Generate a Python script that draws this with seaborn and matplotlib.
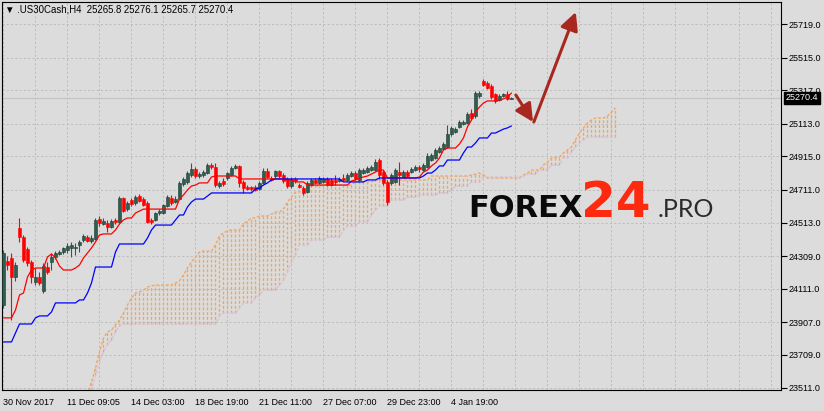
import matplotlib
matplotlib.use("Agg")
import matplotlib.pyplot as plt
import matplotlib.transforms as mtransforms
import numpy as np
import pandas as pd
import seaborn as sns

# .US30Cash H4 candles (bar 0 = 30 Nov 2017)
opens = [24012, 24280, 24298, 24182, 24480, 24425, 24353, 24274, 24152, 24182,
         24098, 24243, 24274, 24304, 24322, 24334, 24347, 24359, 24359, 24377,
         24407, 24425, 24401, 24413, 24535, 24504, 24510, 24486, 24529, 24517,
         24662, 24595, 24650, 24632, 24674, 24656, 24632, 24529, 24529, 24571,
         24571, 24614, 24662, 24638, 24656, 24747, 24760, 24802, 24839, 24796,
         24802, 24814, 24863, 24851, 24735, 24766, 24784, 24802, 24845, 24857,
         24760, 24729, 24729, 24729, 24717, 24754, 24826, 24784, 24796, 24826,
         24802, 24778, 24735, 24778, 24741, 24723, 24699, 24741, 24772, 24754,
         24760, 24778, 24772, 24772, 24766, 24784, 24772, 24796, 24814, 24772,
         24814, 24820, 24832, 24832, 24893, 24820, 24760, 24754, 24760, 24820,
         24790, 24820, 24820, 24832, 24851, 24832, 24851, 24893, 24905, 24942,
         24960, 24972, 25051, 25063, 25094, 25112, 25118, 25179, 25160, 25282,
         25373, 25361, 25343, 25294, 25258, 25282, 25294, 25265.8]
highs = [24347, 24310, 24328, 24274, 24541, 24438, 24365, 24286, 24237, 24213,
         24267, 24274, 24328, 24340, 24347, 24365, 24389, 24395, 24389, 24407,
         24444, 24438, 24438, 24541, 24553, 24541, 24529, 24535, 24541, 24674,
         24668, 24644, 24662, 24681, 24687, 24668, 24644, 24541, 24577, 24595,
         24626, 24681, 24681, 24674, 24766, 24790, 24826, 24875, 24851, 24820,
         24832, 24875, 24875, 24875, 24766, 24784, 24820, 24857, 24869, 24863,
         24772, 24741, 24735, 24741, 24766, 24845, 24845, 24796, 24832, 24832,
         24814, 24790, 24790, 24790, 24754, 24735, 24766, 24784, 24784, 24796,
         24790, 24790, 24784, 24802, 24790, 24808, 24814, 24826, 24826, 24845,
         24845, 24857, 24863, 24899, 24905, 24832, 24772, 24814, 24845, 24881,
         24832, 24832, 24851, 24863, 24863, 24875, 24936, 24936, 24966, 24978,
         25003, 25106, 25100, 25094, 25136, 25136, 25185, 25203, 25312, 25312,
         25385, 25373, 25355, 25300, 25294, 25300, 25312, 25276.1]
lows = [23994, 24225, 23921, 24158, 24395, 24274, 24249, 24146, 24134, 24134,
        24085, 24201, 24225, 24292, 24316, 24322, 24328, 24304, 24316, 24334,
        24395, 24395, 24389, 24407, 24492, 24498, 24456, 24480, 24504, 24510,
        24577, 24583, 24614, 24620, 24638, 24614, 24510, 24504, 24523, 24559,
        24565, 24608, 24620, 24632, 24650, 24735, 24747, 24790, 24784, 24784,
        24790, 24808, 24839, 24729, 24723, 24735, 24772, 24796, 24839, 24729,
        24693, 24711, 24705, 24705, 24711, 24747, 24784, 24766, 24784, 24784,
        24754, 24723, 24723, 24754, 24723, 24681, 24693, 24735, 24747, 24747,
        24754, 24735, 24735, 24741, 24760, 24766, 24766, 24790, 24772, 24766,
        24808, 24814, 24826, 24826, 24778, 24741, 24620, 24741, 24754, 24741,
        24784, 24790, 24814, 24826, 24820, 24826, 24845, 24887, 24899, 24936,
        24954, 24966, 25039, 25057, 25088, 25106, 25112, 25136, 25148, 25270,
        25343, 25324, 25264, 25239, 25252, 25276, 25258, 25265.7]
closes = [24328, 24255, 24182, 24255, 24425, 24286, 24267, 24182, 24182, 24146,
          24249, 24213, 24304, 24328, 24334, 24359, 24371, 24377, 24365, 24395,
          24432, 24401, 24419, 24529, 24510, 24523, 24486, 24523, 24517, 24662,
          24583, 24632, 24626, 24668, 24644, 24620, 24517, 24517, 24571, 24583,
          24620, 24668, 24632, 24656, 24754, 24778, 24814, 24839, 24796, 24808,
          24820, 24863, 24851, 24741, 24754, 24747, 24814, 24845, 24857, 24754,
          24723, 24717, 24717, 24711, 24754, 24826, 24790, 24772, 24826, 24796,
          24766, 24735, 24778, 24766, 24729, 24693, 24754, 24772, 24754, 24784,
          24778, 24741, 24741, 24760, 24778, 24772, 24802, 24814, 24778, 24832,
          24832, 24845, 24851, 24881, 24802, 24754, 24638, 24802, 24832, 24802,
          24820, 24796, 24839, 24851, 24839, 24863, 24918, 24924, 24954, 24966,
          24990, 25051, 25088, 25081, 25124, 25124, 25173, 25148, 25300, 25300,
          25349, 25330, 25276, 25252, 25282, 25294, 25264, 25270.4]

# Ichimoku lines as (level, number of bars it holds)
tenkan_levels = [23934, 23982, 24073, 24085, 24182, 24225, 24237, 24304, 24322, 24298,
                 24249, 24225, 24237, 24255, 24298, 24328, 24359, 24395, 24438, 24444,
                 24468, 24504, 24529, 24541, 24571, 24583, 24595, 24656, 24681, 24711,
                 24735, 24741, 24754, 24790, 24796, 24778, 24772, 24760, 24741, 24766,
                 24772, 24784, 24790, 24796, 24808, 24820, 24832, 24784, 24790, 24820,
                 24832, 24857, 24875, 24905, 24954, 24966, 24990, 25027, 25094, 25136,
                 25185, 25215, 25239, 25252, 25258, 25264, 25276, 25300]
tenkan_bars = [3, 1, 1, 1, 1, 1, 3, 1, 1, 1,
               1, 3, 1, 1, 1, 1, 1, 1, 1, 3,
               1, 1, 1, 2, 1, 1, 9, 1, 1, 1,
               1, 1, 3, 1, 6, 12, 2, 3, 11, 1,
               1, 1, 1, 1, 1, 1, 2, 8, 1, 1,
               1, 1, 1, 1, 1, 3, 1, 1, 1, 1,
               1, 1, 1, 3, 1, 1, 1, 1]
kijun_levels = [23788, 23842, 23897, 23934, 23946, 23970, 24025, 24043, 24085, 24146,
                24243, 24334, 24383, 24419, 24468, 24498, 24529, 24559, 24608, 24638,
                24656, 24674, 24693, 24717, 24723, 24741, 24754, 24772, 24778, 24760,
                24772, 24784, 24796, 24814, 24832, 24857, 24893, 24936, 24972, 24996,
                25027, 25057, 25069, 25081, 25088, 25100]
kijun_bars = [3, 1, 4, 1, 3, 1, 6, 2, 1, 1,
              5, 1, 7, 1, 1, 5, 1, 2, 1, 1,
              3, 1, 11, 1, 1, 1, 1, 1, 17, 6,
              3, 11, 1, 2, 1, 2, 4, 1, 2, 1,
              3, 2, 1, 1, 1, 1]

# Senkou spans, already shifted 26 bars ahead; first value sits at bar 21
span_start = 21
span_a_levels = [23466, 23545, 23630, 23727, 23812, 23848, 23861, 23891, 23921, 23964,
                 24012, 24055, 24085, 24091, 24103, 24122, 24128, 24134, 24146, 24158,
                 24195, 24237, 24274, 24304, 24334, 24340, 24377, 24432, 24450, 24462,
                 24468, 24504, 24523, 24541, 24553, 24565, 24577, 24595, 24638, 24668,
                 24699, 24717, 24723, 24735, 24741, 24760, 24772, 24796, 24802, 24808,
                 24814, 24802, 24784, 24802, 24814, 24832, 24863, 24881, 24905, 24911,
                 24936, 24954, 24972, 25015, 25057, 25088, 25118, 25136, 25148, 25160,
                 25185, 25209]
span_a_bars = [1, 1, 1, 1, 1, 1, 1, 1, 1, 1,
               1, 1, 1, 1, 1, 1, 1, 5, 1, 1,
               1, 1, 1, 1, 1, 3, 1, 1, 1, 1,
               3, 1, 1, 2, 3, 1, 2, 1, 1, 1,
               2, 1, 1, 3, 8, 5, 14, 10, 1, 1,
               1, 1, 9, 1, 1, 3, 1, 1, 1, 2,
               1, 1, 1, 1, 1, 1, 1, 1, 3, 1,
               1, 1]
span_b_levels = [23435, 23496, 23587, 23666, 23727, 23770, 23800, 23848, 23885, 23897,
                 23946, 23964, 23994, 24025, 24055, 24073, 24103, 24134, 24164, 24213,
                 24274, 24316, 24377, 24407, 24425, 24468, 24492, 24517, 24559, 24590,
                 24614, 24650, 24668, 24681, 24693, 24711, 24735, 24760, 24790, 24796,
                 24808, 24832, 24863, 24905, 24942, 24972, 24996, 25015, 25033]
span_b_bars = [1, 1, 1, 1, 1, 1, 1, 1, 1, 24,
               1, 4, 1, 3, 1, 1, 4, 1, 1, 1,
               1, 1, 3, 4, 4, 1, 3, 3, 1, 1,
               3, 4, 3, 5, 3, 1, 4, 3, 10, 1,
               3, 3, 3, 2, 1, 1, 1, 1, 8]

# forecast arrows drawn on the chart: (bar, price) points
arrow_down = [(128.1, 25288), (132.4, 25124)]
arrow_up = [(132.6, 25124), (143.1, 25792)]

# axis labelling
price_ticks = [25719, 25515, 25317, 25113, 24915, 24711, 24513, 24309, 24111, 23907, 23709, 23511]
time_ticks = [0, 16, 32, 48, 64, 80, 96, 112]
time_labels = ["30 Nov 2017", "11 Dec 09:05", "14 Dec 03:00", "18 Dec 19:00",
               "21 Dec 11:00", "27 Dec 07:00", "29 Dec 23:00", "4 Jan 19:00"]
last_price = 25270.4
header = "\u25bc .US30Cash,H4  25265.8 25276.1 25265.7 25270.4"

BG = "#dcdcdc"
GRID = "#bdbdbd"
BULL = "#2f5d4e"
BEAR = "#ff0000"

sns.set_style("white", {"axes.facecolor": BG, "figure.facecolor": BG})
plt.rcParams["font.family"] = ["Liberation Sans", "DejaVu Sans"]

candles = pd.DataFrame({"open": opens, "high": highs, "low": lows, "close": closes})
candles["bar"] = np.arange(len(candles))
candles["up"] = candles["close"] >= candles["open"]

lines = pd.DataFrame({
    "bar": np.arange(len(candles)),
    "tenkan": np.repeat(tenkan_levels, tenkan_bars),
    "kijun": np.repeat(kijun_levels, kijun_bars),
})
span_a = np.repeat(span_a_levels, span_a_bars)
span_b = np.repeat(span_b_levels, span_b_bars)
cloud = pd.DataFrame({"bar": np.arange(span_start, span_start + len(span_a)),
                      "a": span_a, "b": span_b})

fig = plt.figure(figsize=(8.24, 4.11), dpi=100)
ax = fig.add_axes([2 / 824, 21 / 411, 779 / 824, 388 / 411])

# grid
ax.set_xticks(np.arange(0, 195, 8), minor=True)
ax.grid(True, which="both", axis="x", color=GRID, lw=0.7, ls=(0, (2.2, 2.2)), zorder=0)
ax.grid(True, which="major", axis="y", color=GRID, lw=0.7, ls=(0, (2.2, 2.2)), zorder=0)
ax.set_axisbelow(True)

ax.axhline(last_price, color="#c4c4c4", lw=0.8, zorder=1)

# cloud hatching
up_cloud = cloud["a"] >= cloud["b"]
dash = (0, (2.2, 1.4))
ax.vlines(cloud["bar"][up_cloud], cloud["b"][up_cloud], cloud["a"][up_cloud],
          colors="#f4a460", linestyles=[dash], lw=0.95, zorder=2)
ax.vlines(cloud["bar"][~up_cloud], cloud["a"][~up_cloud], cloud["b"][~up_cloud],
          colors="#d8bfd8", linestyles=[dash], lw=0.95, zorder=2)
ax.plot(cloud["bar"], cloud["a"], color="#f4a460", lw=0.95, ls=dash, zorder=2)
ax.plot(cloud["bar"], cloud["b"], color="#d8bfd8", lw=0.95, ls=dash, zorder=2)

# candles
wick_colors = np.where(candles["up"], BULL, BEAR)
ax.vlines(candles["bar"], candles["low"], candles["high"], colors=wick_colors, lw=0.8, zorder=3)
body_low = candles[["open", "close"]].min(axis=1)
body_h = (candles["close"] - candles["open"]).abs().clip(lower=5)
ax.bar(candles["bar"], body_h, bottom=body_low, width=0.62,
       color=np.where(candles["up"], BULL, BEAR),
       edgecolor=np.where(candles["up"], "#1d3a31", BEAR), linewidth=0.4, zorder=4)

# tenkan / kijun
sns.lineplot(data=lines, x="bar", y="tenkan", color="#ff0000", linewidth=0.9, ax=ax, zorder=5)
sns.lineplot(data=lines, x="bar", y="kijun", color="#0000ff", linewidth=0.9, ax=ax, zorder=5)

# forecast arrows
arrow_style = dict(arrowstyle="-|>,head_length=0.9,head_width=0.45", color="#a8281f",
                   lw=2.2, shrinkA=0, shrinkB=0, mutation_scale=12)
ax.annotate("", xy=arrow_down[1], xytext=arrow_down[0], arrowprops=arrow_style, zorder=6)
ax.annotate("", xy=arrow_up[1], xytext=arrow_up[0], arrowprops=arrow_style, zorder=6)

ax.set_xlim(-0.375, 194.4)
ax.set_ylim(23496, 25853)
ax.set_xlabel("")
ax.set_ylabel("")

ax.set_xticks(time_ticks)
ax.set_xticklabels(time_labels, ha="left")
ax.yaxis.tick_right()
ax.set_yticks(price_ticks)
ax.set_yticklabels([f"{v:.1f}" for v in price_ticks])
ax.tick_params(axis="both", which="major", direction="out", length=4, width=0.8,
               color="black", labelsize=6.5, labelcolor="black")
ax.tick_params(axis="x", which="major", pad=1.5)
ax.tick_params(axis="y", which="major", pad=1.5)
ax.tick_params(axis="x", which="minor", length=0)
for side in ["left", "right", "top", "bottom"]:
    ax.spines[side].set_visible(True)
    ax.spines[side].set_color("black")
    ax.spines[side].set_linewidth(0.8)

# current price label
trans = mtransforms.blended_transform_factory(ax.transAxes, ax.transData)
ax.text(1.006, last_price, f"{last_price:.1f}", transform=trans, ha="left", va="center",
        fontsize=6.5, color="white", clip_on=False, zorder=10,
        bbox=dict(boxstyle="square,pad=0.2", fc="black", ec="black"))

# header
fig.text(5 / 824, 1 - 10 / 411, header, ha="left", va="center", fontsize=6.9, color="black")

# watermark
fig.text(468 / 824, 1 - 217 / 411, "FOREX", ha="left", va="baseline", fontsize=22,
         fontweight="bold", family=["DejaVu Sans"], color="#0a0a0a")
fig.text(581 / 824, 1 - 217 / 411, "24", ha="left", va="baseline", fontsize=36,
         fontweight="bold", family=["DejaVu Sans"], color="#fe2a10")
fig.text(658 / 824, 1 - 217 / 411, ".PRO", ha="left", va="baseline", fontsize=18,
         fontweight="normal", family=["Lato", "DejaVu Sans"], color="#2b2b2b")

fig.savefig("out.png", dpi=100, facecolor=BG)
